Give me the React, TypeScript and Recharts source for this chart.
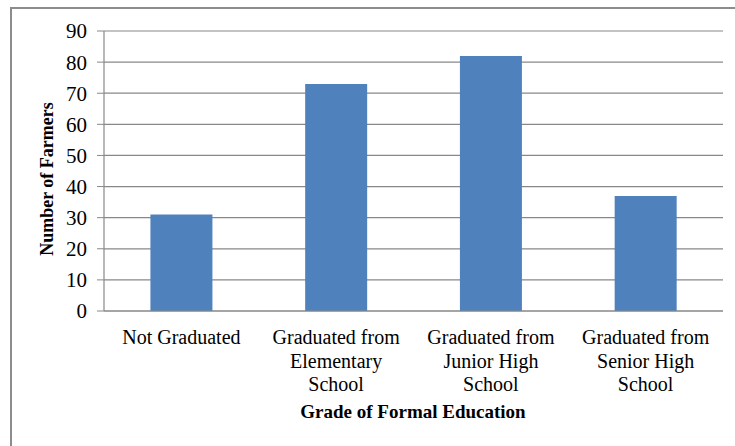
import { Bar, BarChart, CartesianGrid, XAxis, YAxis } from "recharts";

const categories = [
  "Not Graduated",
  "Graduated from Elementary School",
  "Graduated from Junior High School",
  "Graduated from Senior High School",
];
// wrapped label lines for each category
const categoryLines = [
  ["Not Graduated"],
  ["Graduated from", "Elementary", "School"],
  ["Graduated from", "Junior High", "School"],
  ["Graduated from", "Senior High", "School"],
];
const farmers = [31, 73, 82, 37];
const yTicks = [0, 10, 20, 30, 40, 50, 60, 70, 80, 90];

const data = categories.map((name, i) => ({ name, farmers: farmers[i] }));

const FONT = "'Liberation Serif', 'Times New Roman', serif";
const GRID = "#888888";

function CategoryTick(props: any) {
  const { x, y, payload } = props;
  const lines = categoryLines[categories.indexOf(payload.value)] ?? [payload.value];
  return (
    <text x={x} y={y} textAnchor="middle" fontFamily={FONT} fontSize={20} fill="#000">
      {lines.map((line: string, i: number) => (
        <tspan key={i} x={x} dy={i === 0 ? 25 : 23.5}>
          {line}
        </tspan>
      ))}
    </text>
  );
}

export default function App() {
  return (
    <div style={{ position: "absolute", left: 0, top: 0, width: 735, height: 446, background: "#fff" }}>
      {/* chart frame: only top and left edges are visible */}
      <div
        style={{
          position: "absolute",
          left: 10,
          top: 7,
          right: -4,
          bottom: -4,
          borderTop: "2px solid #8c8c8c",
          borderLeft: "2px solid #8c8c8c",
        }}
      />
      <div style={{ position: "absolute", left: 0, top: 0 }}>
        <BarChart
          width={735}
          height={446}
          data={data}
          margin={{ top: 31, right: 12, left: 44, bottom: 35 }}
          barCategoryGap="30%"
        >
          <CartesianGrid vertical={false} stroke={GRID} strokeWidth={1.2} />
          <XAxis
            dataKey="name"
            height={100}
            interval={0}
            tickLine={false}
            axisLine={{ stroke: GRID, strokeWidth: 1.2 }}
            tick={<CategoryTick />}
            label={{
              content: () => (
                <text x={413} y={418} textAnchor="middle" fontFamily={FONT} fontSize={19} fontWeight="bold" fill="#000">
                  Grade of Formal Education
                </text>
              ),
            }}
          />
          <YAxis
            width={60}
            domain={[0, 90]}
            ticks={yTicks}
            interval={0}
            tickSize={7}
            tickMargin={10}
            tickLine={{ stroke: GRID }}
            axisLine={{ stroke: GRID, strokeWidth: 1.2 }}
            tick={{ fontFamily: FONT, fontSize: 21, fill: "#000" }}
            label={{
              content: () => (
                <text
                  x={0}
                  y={0}
                  transform="translate(53 179) rotate(-90)"
                  textAnchor="middle"
                  fontFamily={FONT}
                  fontSize={18}
                  fontWeight="bold"
                  fill="#000"
                >
                  Number of Farmers
                </text>
              ),
            }}
          />
          <Bar dataKey="farmers" fill="#4f81bd" isAnimationActive={false} />
        </BarChart>
      </div>
    </div>
  );
}
